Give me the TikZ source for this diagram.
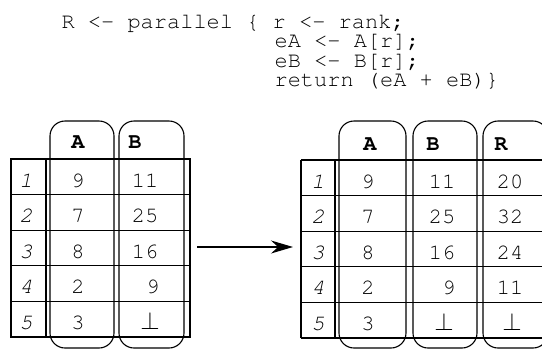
\documentclass[tikz,border=0pt]{standalone}
\usepackage[T1]{fontenc}
\usepackage{courier}
\usetikzlibrary{arrows.meta}
\newcommand\codefont{\ttfamily\fontsize{22}{20}\selectfont
  \spaceskip=.6em\relax\xspaceskip=.6em\relax}
\begin{document}
\begin{tikzpicture}[x=1pt,y=-1pt,line width=1.1pt,
  font=\codefont,
  col/.style={rounded corners=15pt},
  code/.style={inner sep=0pt,anchor=base west,text height=14pt,text depth=4pt},
  txt/.style={inner sep=0pt,anchor=base},
  hd/.style={txt,font=\codefont\bfseries},
  idx/.style={txt,font=\codefont\itshape}]
\useasboundingbox (0,0) rectangle (542,349);
% code
\node[code] (line1) at (61,28) {R <- parallel \{ r <- rank;};
\node[code] (line2) at (274,47) {eA <- A[r];};
\node[code] (line3) at (274,67) {eB <- B[r];};
\node[code] (line4) at (274,86) {return (eA + eB)\}};
% left table
\draw (11,159) rectangle (190,337);
\foreach \y in {194.6,230.2,265.8,301.4} \draw (11,\y) -- (190,\y);
\draw (46,159) -- (46,337);
\draw[col] (50,121) rectangle (114,348);
\draw[col] (119,121) rectangle (184,348);
\node[hd] (la) at (78,148) {A};
\node[hd] (lb) at (135,148) {B};
\foreach \i/\y in {1/187,2/222.6,3/258.2,4/293.8,5/329.4}
  \node[idx] (li\i) at (26,\y) {\i};
\foreach \i/\v/\y in {1/9/187,2/7/222.6,3/8/258.2,4/2/293.8,5/3/329.4}
  \node[txt] (la\i) at (78,\y) {\v};
\foreach \i/\v/\y in {1/11/187,2/25/222.6,3/16/258.2}
  \node[txt] (lb\i) at (145,\y) {\v};
\node[txt] (lb4) at (153,293.8) {9};
\node[txt,font=\fontsize{30}{30}\selectfont] (lb5) at (150,329.4) {$\perp$};
% arrow
\coordinate (from) at (197,247);
\coordinate (to) at (293,247);
\draw[-{Stealth[length=22pt,width=13pt]}] (from) -- (to);
% right table
\draw (301,160) -- (550,160) (301,338) -- (550,338) (301,160) -- (301,338);
\foreach \y in {195.6,231.2,266.8,302.4} \draw (301,\y) -- (550,\y);
\draw (335,160) -- (335,338);
\draw[col] (339,121) rectangle (406,348);
\draw[col] (413,121) rectangle (477,348);
\draw[col] (483,121) rectangle (548,348);
\node[hd] (ra) at (370,150) {A};
\node[hd] (rb) at (433,150) {B};
\node[hd] (rr) at (501,150) {R};
\foreach \i/\y in {1/188,2/223.6,3/259.2,4/294.8,5/330.4}
  \node[idx] (ri\i) at (318,\y) {\i};
\foreach \i/\v/\y in {1/9/188,2/7/223.6,3/8/259.2,4/2/294.8,5/3/330.4}
  \node[txt] (ra\i) at (368,\y) {\v};
\foreach \i/\v/\y in {1/11/188,2/25/223.6,3/16/259.2}
  \node[txt] (rb\i) at (442,\y) {\v};
\node[txt] (rb4) at (449,294.8) {9};
\node[txt,font=\fontsize{30}{30}\selectfont] (rb5) at (444,330.4) {$\perp$};
\foreach \i/\v/\y in {1/20/188,2/32/223.6,3/24/259.2,4/11/294.8}
  \node[txt] (rr\i) at (510,\y) {\v};
\node[txt,font=\fontsize{30}{30}\selectfont] (rr5) at (512,330.4) {$\perp$};
\end{tikzpicture}
\end{document}
